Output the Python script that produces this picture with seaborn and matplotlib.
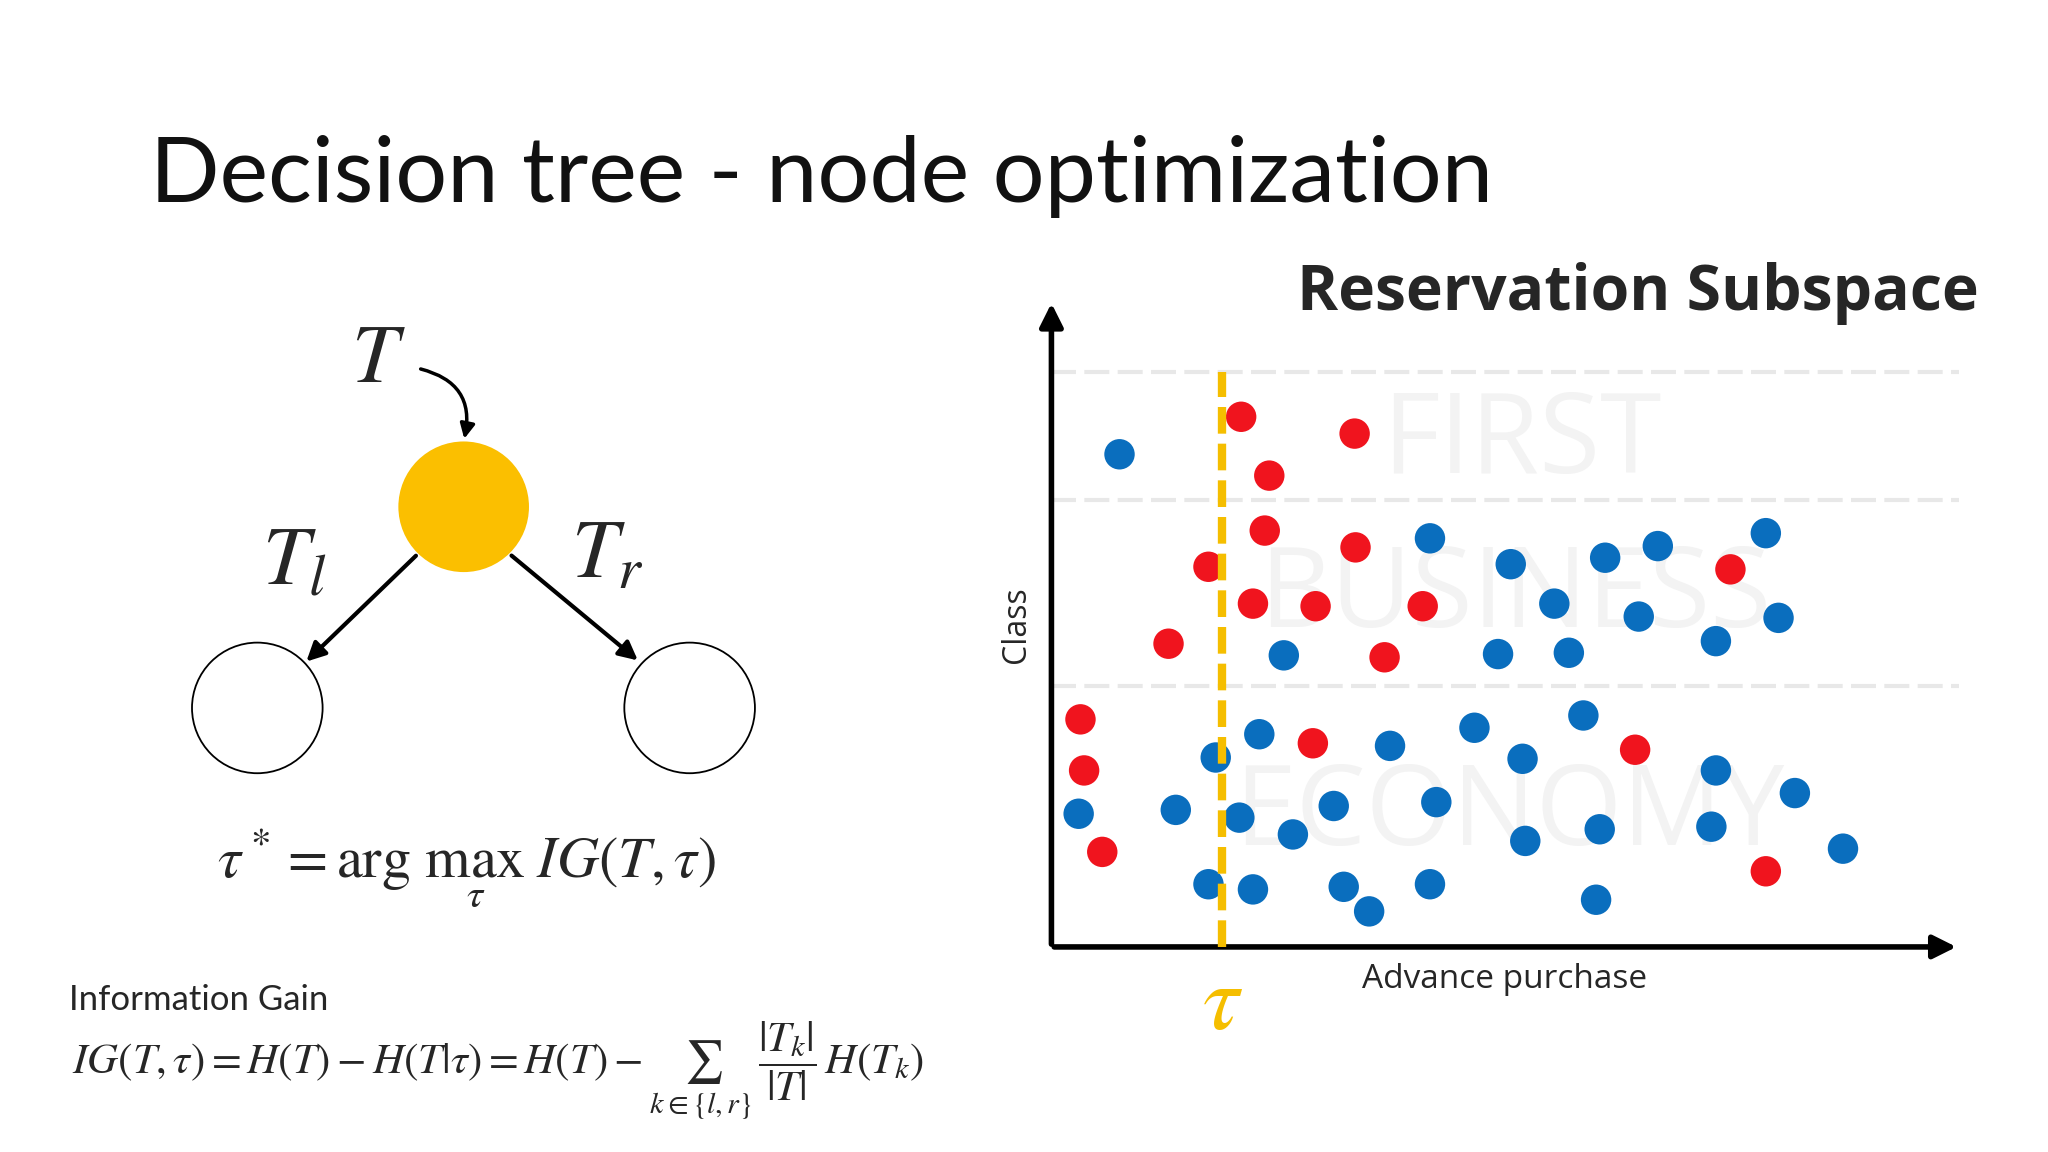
import matplotlib
matplotlib.use("Agg")
import matplotlib.pyplot as plt
from matplotlib.patches import Circle, FancyArrowPatch
import pandas as pd
import seaborn as sns

# scatter values (advance purchase 0-100, class score 0-100)
red_x = [20.9, 33.4, 24.0, 23.5, 33.5, 17.3, 74.8, 22.2, 29.1, 40.9, 12.9, 36.7,
         3.2, 28.8, 64.3, 3.6, 5.6, 78.7]
red_y = [82.0, 79.4, 72.9, 64.4, 61.8, 58.8, 58.4, 53.1, 52.7, 52.7, 46.9, 44.8,
         35.2, 31.5, 30.5, 27.3, 14.7, 11.7]
blue_x = [7.5, 41.7, 50.6, 61.0, 66.8, 78.7, 55.4, 64.7, 80.1, 73.2, 25.6, 49.2,
          57.0, 22.9, 37.3, 46.6, 58.6, 51.9, 18.1, 73.2, 81.9, 3.0, 13.7, 20.7,
          31.1, 42.4, 26.6, 52.2, 60.4, 72.7, 87.2, 17.3, 22.2, 32.2, 41.7, 35.0, 60.0]
blue_y = [76.2, 63.2, 59.2, 60.2, 62.0, 64.0, 53.1, 51.1, 50.9, 47.3, 45.1, 45.3,
          45.5, 32.9, 31.1, 33.9, 35.8, 29.1, 29.3, 27.3, 23.8, 20.6, 21.2, 20.0,
          21.8, 22.4, 17.4, 16.4, 18.2, 18.6, 15.2, 9.7, 8.9, 9.3, 9.7, 5.5, 7.3]
class_names = ["FIRST", "BUSINESS", "ECONOMY"]
class_label_pos = [(51.8, 77.8), (51.1, 53.9), (50.4, 20.2)]
class_bounds = [88.9, 69.1, 40.4]
tau = 18.8

df = pd.DataFrame({
    "x": red_x + blue_x,
    "y": red_y + blue_y,
    "c": ["r"] * len(red_x) + ["b"] * len(blue_x),
})

sns.set_style("white")
plt.rcParams["font.family"] = ["Lato", "DejaVu Sans"]
plt.rcParams["mathtext.fontset"] = "stix"

fig = plt.figure(figsize=(20.48, 11.52), dpi=100)

# overlay in slide pixel units for the left-hand diagram and text
ov = fig.add_axes([0, 0, 1, 1])
ov.set_xlim(0, 1568)
ov.set_ylim(882, 0)
ov.axis("off")

ov.text(115, 135, "Decision tree - node optimization", fontsize=66,
        va="center", ha="left", color="#111111")

orange = "#FBBF00"
ov.add_patch(Circle((355, 388), 50, facecolor=orange, edgecolor="none"))
ov.add_patch(Circle((197, 542), 50, facecolor="white", edgecolor="black", lw=1.3))
ov.add_patch(Circle((528, 542), 50, facecolor="white", edgecolor="black", lw=1.3))
for start, end in [((320, 424), (233, 508)), ((390, 424), (490, 507))]:
    ov.add_patch(FancyArrowPatch(start, end, arrowstyle="-|>", mutation_scale=28,
                                 lw=3, color="black"))
ov.add_patch(FancyArrowPatch((320, 282), (355, 338), arrowstyle="-|>", mutation_scale=22,
                             lw=2.5, color="black", connectionstyle="arc3,rad=-0.5"))
ov.text(290, 275, r"$T$", fontsize=60, ha="center", va="center")
ov.text(225, 430, r"$T_l$", fontsize=60, ha="center", va="center")
ov.text(465, 425, r"$T_r$", fontsize=60, ha="center", va="center")
ov.text(357, 665, r"$\tau^* = \arg\,\max_{\tau}\; IG(T,\tau)$", fontsize=42,
        ha="center", va="center")
ov.text(53, 766, "Information Gain", fontsize=25, ha="left", va="center")
ov.text(55, 820, r"$IG(T,\tau) = H(T) - H(T|\tau) = H(T) - \sum_{k\in\{l,r\}}\,\dfrac{|T_k|}{|T|}\,H(T_k)$",
        fontsize=31, ha="left", va="center")

# scatter panel
ax = fig.add_axes([805 / 1568, 1 - 725 / 882, 695 / 1568, 495 / 882])
ax.patch.set_alpha(0)
ax.set_xlim(0, 100)
ax.set_ylim(0, 100)
for b in class_bounds:
    ax.axhline(b, color="#e8e8e8", lw=3, ls=(0, (6, 2)), zorder=0)
for name, (px, py) in zip(class_names, class_label_pos):
    ax.text(px, py, name, fontsize=80, color="#f3f3f3", ha="center", va="center",
            family=["Open Sans", "DejaVu Sans"], zorder=0)
sns.scatterplot(data=df, x="x", y="y", hue="c", palette={"r": "#F0141E", "b": "#0A6EBE"},
                s=480, edgecolor="none", legend=False, ax=ax, zorder=3)
ax.plot([tau, tau], [0, 89], color="#F5BE00", lw=6, ls=(0, (3.2, 1.2)), zorder=4)
for s in ax.spines.values():
    s.set_visible(False)
ax.set_xticks([])
ax.set_yticks([])
ax.set_xlabel("")
ax.set_ylabel("")
ax.annotate("", xy=(1.0, 0), xytext=(0, 0), xycoords="axes fraction",
            arrowprops=dict(arrowstyle="-|>", lw=4, color="black", mutation_scale=35))
ax.annotate("", xy=(0, 1.0), xytext=(0, 0), xycoords="axes fraction",
            arrowprops=dict(arrowstyle="-|>", lw=4, color="black", mutation_scale=35))

ov.text(1515, 225, "Reservation Subspace", fontsize=45, weight="bold", ha="right",
        va="center", family=["Open Sans", "DejaVu Sans"])
ov.text(778, 478, "Class", fontsize=23, rotation=90, ha="center", va="center",
        family=["Open Sans", "DejaVu Sans"])
ov.text(1152, 750, "Advance purchase", fontsize=24, ha="center", va="center",
        family=["Open Sans", "DejaVu Sans"])
ov.text(936, 768, r"$\tau$", fontsize=66, color="#F5BE00", ha="center", va="center")

fig.savefig("out.png", dpi=100, facecolor="white")
